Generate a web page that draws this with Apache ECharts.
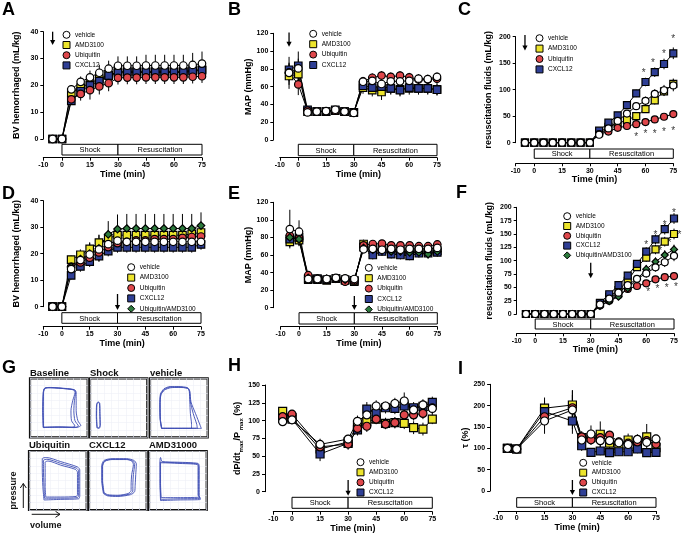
<!DOCTYPE html>
<html><head><meta charset="utf-8">
<script src="https://cdn.jsdelivr.net/npm/echarts@6/dist/echarts.min.js"></script>
<style>html,body{margin:0;padding:0;background:#fff}#c{width:685px;height:534px}</style>
</head><body><div id="c"></div>
<script>
// ---------- shared ----------
const T1 = [-5,0,5,10,15,20,25,30,35,40,45,50,55,60,65,70,75];
const T2 = [-5,0,15,30,35,40,45,50,55,60,65,70,75];
const X_TICKS = [-10,0,15,30,45,60,75];
const PHASE_START = [0,30];
const PHASE_END = [30,75];
const PHASE_LABEL = ['Shock','Resuscitation'];

// ---------- A ----------
const A_vehicle     = [0,0,18.5,21.3,23.0,24.7,26.2,27.3,27.3,27.3,27.4,27.4,27.4,27.4,27.4,27.6,28.1];
const A_vehicle_err = [0,0,1.5,2.0,2.5,3.0,3.0,3.5,3.5,3.5,4.0,4.0,4.0,4.0,4.0,4.5,4.5];
const A_amd         = [0,0,17.3,19.2,20.8,22.5,23.8,25.0,25.2,25.2,25.2,25.2,25.2,25.2,25.2,25.6,25.9];
const A_amd_err     = [0,0,1.0,1.5,2.0,2.0,2.5,3.0,3.0,3.0,3.0,3.0,3.0,3.0,3.0,3.0,3.0];
const A_ubi         = [0,0,14.8,16.8,18.2,19.6,20.8,22.8,22.9,22.9,23.0,23.0,23.0,23.0,23.0,23.2,23.4];
const A_ubi_err     = [0,0,2.0,2.5,3.5,3.0,3.0,2.5,2.5,2.5,2.5,2.5,2.5,2.5,2.5,2.5,2.5];
const A_cxcl        = [0,0,14.2,17.8,20.0,21.6,23.6,24.6,24.8,24.8,24.8,24.8,24.8,24.8,24.8,25.3,25.6];
const A_cxcl_err    = [0,0,1.5,2.0,2.0,2.0,2.0,3.0,3.0,3.0,3.0,3.0,3.0,3.0,3.0,3.0,3.0];
const A_arrow = [-5,40,35];

// ---------- B ----------
const B_vehicle     = [75.5,80.5,31,32,32.5,34,32,30.5,65.5,66.5,63,66,66,66.5,69,68.5,71];
const B_vehicle_err = [18,19,3,3,3,3,3,3,5,5,5,5,5,5,5,5,5];
const B_amd         = [72,74,32,32,32,33,32,31,59,56,54,58,57,58,58,58,57];
const B_amd_err     = [10,10,3,3,3,3,3,3,7,7,9,7,7,7,7,7,7];
const B_ubi         = [76,62.5,33,32,32,33,32,31,66,70,72.5,71,72.5,70.5,68,68,69];
const B_ubi_err     = [10,12,3,3,3,3,3,3,5,5,5,5,5,5,5,5,5];
const B_cxcl        = [79,83.5,34,32,32,34,32,31,61,59,60,58,56,59,58,58,56.5];
const B_cxcl_err    = [8,8,3,3,3,3,3,3,5,6,6,6,7,6,6,6,6];
const B_arrow = [-5,121,105];

// ---------- C ----------
const C_vehicle     = [0,0,0,0,0,0,0,0,15,27,41,55,69,79,92,99,108];
const C_vehicle_err = [0,0,0,0,0,0,0,0,3,4,5,6,7,8,9,10,11];
const C_amd         = [0,0,0,0,0,0,0,0,19,30,36,43,50,63.5,80,97,111];
const C_amd_err     = [0,0,0,0,0,0,0,0,3,4,5,5,6,7,8,9,10];
const C_ubi         = [0,0,0,0,0,0,0,0,16,21,28,31.5,35,39,44,49,54];
const C_ubi_err     = [0,0,0,0,0,0,0,0,3,3,4,4,5,5,6,6,6];
const C_cxcl        = [0,0,0,0,0,0,0,0,22.6,37.7,51.6,71,93,114.5,133,148.5,168.7];
const C_cxcl_err    = [0,0,0,0,0,0,0,0,3,4,5,6,7,8,9,10,11];
const C_arrow = [-5,203,174];
const C_star_x = [59,64,70,75,55,60,65,70,75];
const C_star_y = [135,154,170,199,14,19,20.6,24,25];

// ---------- D ----------
const D_vehicle     = [0,0,14.2,17.6,19.7,21.6,23.6,24.9,24.5,24.5,24.5,24.5,24.5,24.5,24.5,24.5,24.5];
const D_vehicle_err = [0,0,1.5,2,2,2,2,2.5,2.5,2.5,2.5,2.5,2.5,2.5,2.5,2.5,2.5];
const D_amd         = [0,0,17.8,19.6,21.8,24.2,25.8,27,27,27,27,27,27,27,27,27.5,28];
const D_amd_err     = [0,0,1.5,2,2.5,3,3,3,3,3,3,3,3,3,3,3,3];
const D_ubi         = [0,0,15,16.7,18.5,20.5,22.5,24,24.5,25,25,25.5,25.5,25.5,26,26.3,26.5];
const D_ubi_err     = [0,0,1.5,2,2,2,2,2.5,2.5,2.5,2.5,2.5,2.5,2.5,2.5,2.5,2.5];
const D_cxcl        = [0,0,11.8,15.2,17,19.1,21,22.4,22.4,22.4,22.4,22.4,22.4,22.4,22.4,22.4,23.5];
const D_cxcl_err    = [0,0,1.5,2,2,2,2,2,2,2,2,2,2,2,2,2,2];
const D_ua          = [0,0,15,18,20,22,27.3,29.3,29.5,29.5,29.5,29.5,29.5,29.5,29.5,29.5,30.6];
const D_ua_err      = [0,0,2,3,4,5,5,5.5,5.5,5.5,5.5,5.5,5.5,5.5,5.5,5.5,5];
const D_arrow = [30,4.8,-1.2];

// ---------- E ----------
const E_vehicle     = [89.5,86.5,32.7,32.7,32.7,34,33.4,32.7,66.5,67,66,67,66,67,67,67,68];
const E_vehicle_err = [22,13,3,3,3,3,3,3,4,4,4,4,4,4,4,4,4];
const E_amd         = [75,77,32,32,31,33,31,29.6,72.5,66,67,66,65,64,65,64,65];
const E_amd_err     = [6,6,3,3,3,3,3,3,5,5,5,5,5,5,5,5,5];
const E_ubi         = [82,79,37,33,32,33,29.6,31,71,72.5,73,71,71,71,70,70,72];
const E_ubi_err     = [8,8,3,3,3,3,3,3,4,4,4,4,4,4,4,4,4];
const E_cxcl        = [78,80,33,33,32,33,32,31,69,60,64,61,60,59,62,62,63];
const E_cxcl_err    = [8,8,3,3,3,3,3,3,5,5,5,5,5,5,5,5,5];
const E_ua          = [80,78,34,33,33,33,32,32,68,66,65,64,64,63,63,61,64];
const E_ua_err      = [8,8,3,3,3,3,3,3,5,5,5,5,5,5,5,5,5];
const E_arrow = [30,13.3,-2.6];

// ---------- F ----------
const F_vehicle     = [0,0,0,0,0,0,0,0,18,29,40,54,66,76,87.5,97,109];
const F_vehicle_err = [0,0,0,0,0,0,0,0,3,4,5,6,7,8,8,9,10];
const F_amd         = [0,0,0,0,0,0,0,0,20,32,45,62,88,105.6,121,135.6,150];
const F_amd_err     = [0,0,0,0,0,0,0,0,3,4,5,6,7,8,9,9,10];
const F_ubi         = [0,0,0,0,0,0,0,0,16,25,35,47,52.5,57.5,65,69,71];
const F_ubi_err     = [0,0,0,0,0,0,0,0,3,3,4,4,5,5,5,5,5];
const F_cxcl        = [0,0,0,0,0,0,0,0,21,37,54,72,94,117,140,159,179];
const F_cxcl_err    = [0,0,0,0,0,0,0,0,3,4,5,6,7,8,9,10,10];
const F_ua          = [0,0,0,0,0,0,0,0,15,24,32.5,48,65,84,98,110.6,121];
const F_ua_err      = [0,0,0,0,0,0,0,0,3,4,5,6,7,8,8,9,9];
const F_arrow = [30,96,67];
const F_star_x = [60,65,70,75,67.5,72.5,78,61,66,71,76];
const F_star_y = [132,151,170,192,121,136,151,45,50,52.5,54];

// ---------- H ----------
const H_vehicle     = [98.5,101,66.5,74,99,108,120.5,120.5,124,127.5,115,122,117];
const H_vehicle_err = [5,6,8,6,8,10,8,6,8,12,8,8,8];
const H_amd         = [113,104,60,70,94,98.5,102,96,97,96,90,88,102];
const H_amd_err     = [6,6,8,7,8,8,7,8,8,8,9,9,7];
const H_ubi         = [105.5,109,63,67,89,92,102,95,97,108,108,110,118];
const H_ubi_err     = [6,6,8,8,8,8,7,7,7,7,8,8,8];
const H_cxcl        = [103,102,53,68,87,116,110,118,117,120.5,118,120,125.6];
const H_cxcl_err    = [6,6,10,7,8,10,8,8,8,8,8,8,8];
const H_arrow = [30,16.4,-5.6];

// ---------- I ----------
const I_vehicle     = [100,98.4,164,190,119.5,133.6,118,118,113,109,121,114,122];
const I_vehicle_err = [4,4,30,45,15,20,15,12,12,10,12,10,10];
const I_amd         = [100,98.4,194,201.5,125,125,133,112,105.5,119.5,112,127,101.6];
const I_amd_err     = [4,4,25,35,15,15,30,15,12,15,12,30,10];
const I_ubi         = [100,98.4,174,195,127,120,125,131,115,112,115,118,110];
const I_ubi_err     = [4,4,20,30,12,12,12,10,10,10,10,10,10];
const I_cxcl        = [100,98.4,186,164,106,90.6,93.7,90,92,92,98.4,90,90.6];
const I_cxcl_err    = [4,4,25,30,12,10,10,10,10,10,10,10,10];
const I_arrow = [30,25.8,-9.4];

// ---------- G (pressure-volume loops, box units 0-10) ----------
const PV_baseline = [
  [[2.3,1.7],[2.2,4.5],[2.3,7.5],[2.5,8.3],[3.5,8.4],[6.5,8.2],[7.6,8.0],[7.8,7.6],[7.4,6.2],[7.1,4.5],[7.2,2.8],[7.8,1.9],[7.3,1.7],[5,1.75],[2.3,1.7]],
  [[2.3,1.65],[2.25,4.5],[2.3,7.6],[2.6,8.35],[3.5,8.45],[6.5,8.25],[7.7,8.05],[7.9,7.6],[7.7,6.2],[7.6,4.5],[7.8,2.8],[8.4,1.9],[7.8,1.65],[5,1.7],[2.3,1.65]],
  [[2.35,1.7],[2.3,4.5],[2.35,7.6],[2.6,8.3],[3.5,8.4],[6.5,8.2],[7.8,8.0],[8.0,7.6],[8.0,6.2],[8.0,4.5],[8.3,2.8],[8.8,2.0],[8.2,1.7],[5,1.75],[2.35,1.7]]
];
const PV_shock = [
  [[1.2,1.6],[1.1,3.5],[1.15,5.6],[1.4,6.0],[1.7,5.8],[1.75,4],[1.8,2.0],[1.6,1.5],[1.2,1.6]],
  [[1.25,1.7],[1.15,3.5],[1.2,5.5],[1.45,5.9],[1.65,5.7],[1.7,4],[1.75,2.1],[1.55,1.6],[1.25,1.7]]
];
const PV_vehicle = [
  [[2.0,1.5],[1.75,3],[1.7,5.5],[1.8,7.3],[2.4,8.2],[3.5,8.6],[5,8.6],[6.5,8.4],[6.8,7.8],[6.9,6.0],[7.0,4.0],[7.2,2.2],[7.2,1.5],[4.5,1.5],[2.0,1.5]],
  [[2.0,1.55],[1.8,3],[1.75,5.5],[1.85,7.2],[2.5,8.1],[3.5,8.5],[5,8.5],[6.5,8.3],[6.85,7.8],[7.0,6.0],[7.5,4.0],[8.1,2.2],[8.2,1.55],[4.5,1.55],[2.0,1.55]],
  [[2.05,1.5],[1.8,3],[1.75,5.5],[1.9,7.2],[2.5,8.0],[3.6,8.4],[5,8.45],[6.6,8.3],[6.9,7.8],[7.1,6.0],[7.9,4.0],[8.7,2.0],[8.9,1.5],[4.5,1.5],[2.05,1.5]]
];
const PV_ubiquitin = [
  [[2.6,1.7],[2.4,4],[2.3,7],[2.3,8.7],[3,8.9],[5.5,8.2],[8.4,7.3],[8.8,6.8],[8.8,4.5],[8.8,2.4],[8.6,1.9],[5.5,1.8],[2.6,1.7]],
  [[2.7,2.0],[2.6,4],[2.5,7],[2.5,8.4],[3.1,8.6],[5.5,7.9],[8.2,7.1],[8.6,6.6],[8.6,4.5],[8.6,2.5],[8.4,2.1],[5.5,2.0],[2.7,2.0]],
  [[2.9,2.2],[2.8,4],[2.8,7],[2.8,8.1],[3.3,8.3],[5.5,7.6],[8.0,6.9],[8.4,6.4],[8.4,4.5],[8.4,2.6],[8.2,2.3],[5.5,2.2],[2.9,2.2]]
];
const PV_cxcl12 = [
  [[2.5,2.8],[2.2,5],[2.2,7.5],[2.6,8.4],[4,8.7],[6.5,8.7],[7.8,8.4],[8.2,7.8],[8.1,6],[8.0,4.2],[7.9,3.1],[7.2,2.6],[5,2.3],[3.2,2.4],[2.5,2.8]],
  [[2.55,2.9],[2.3,5],[2.3,7.4],[2.7,8.3],[4,8.6],[6.5,8.6],[7.6,8.3],[7.9,7.7],[7.7,6],[7.6,4.2],[7.6,3.2],[7.0,2.7],[5,2.4],[3.2,2.5],[2.55,2.9]],
  [[2.6,3.0],[2.35,5],[2.35,7.4],[2.75,8.25],[4,8.55],[6.5,8.55],[7.4,8.3],[7.7,7.7],[7.4,6],[7.3,4.2],[7.3,3.3],[6.8,2.8],[5,2.5],[3.2,2.6],[2.6,3.0]]
];
const PV_amd = [
  [[2.0,1.6],[1.9,4.5],[1.9,8.3],[2.0,8.9],[2.3,8.2],[5,8.1],[8.5,7.9],[8.7,7.4],[8.7,4.5],[8.7,2.5],[8.9,1.8],[5,1.7],[2.0,1.6]],
  [[2.1,2.1],[2.0,4.5],[2.0,8.0],[2.3,8.0],[5,7.9],[8.4,7.7],[8.5,7.2],[8.5,4.5],[8.5,2.5],[8.8,2.2],[5,2.1],[2.1,2.1]],
  [[2.05,1.8],[1.95,4.5],[1.95,8.1],[2.3,8.1],[5,8.0],[8.45,7.8],[8.6,7.3],[8.6,4.5],[8.6,2.4],[8.9,2.0],[5,1.9],[2.05,1.8]]
];
const PV_TITLES = ['Baseline','Shock','vehicle','Ubiquitin','CXCL12','AMD31000'];

// ---------- build ----------
const FONT = "'Liberation Sans', Arial, Helvetica, sans-serif";
const STY = {
  'vehicle':{symbol:'circle', color:'#ffffff'},
  'AMD3100':{symbol:'rect', color:'#ece42c'},
  'Ubiquitin':{symbol:'circle', color:'#df474b'},
  'CXCL12':{symbol:'rect', color:'#2f3f95'},
  'Ubiquitin/AMD3100':{symbol:'diamond', color:'#2c7a3c'}
};
const DRAW_ORDER = ['AMD3100','CXCL12','Ubiquitin','Ubiquitin/AMD3100','vehicle'];
const LEG_ORDER = ['vehicle','AMD3100','Ubiquitin','CXCL12','Ubiquitin/AMD3100'];

const option = {animation:false, textStyle:{fontFamily:FONT}, title:[], grid:[], xAxis:[], yAxis:[], legend:[], series:[], graphic:[]};

const panels = [
 {id:'A', t:T1, s:{'vehicle':[A_vehicle,A_vehicle_err],'AMD3100':[A_amd,A_amd_err],'Ubiquitin':[A_ubi,A_ubi_err],'CXCL12':[A_cxcl,A_cxcl_err]},
  grid:[43.3,31.7,158.7,107.3], yMax:40, yInt:10, yOff:0, xOff:18.7, xGap:11.5, box:[5.3,10.7],
  yName:'BV hemorrhaged (mL/kg)', yGap:22, leg:[62.5,30.8,2.2], size:7.5, arrow:A_arrow, letter:[2,1]},
 {id:'B', t:T1, s:{'vehicle':[B_vehicle,B_vehicle_err],'AMD3100':[B_amd,B_amd_err],'Ubiquitin':[B_ubi,B_ubi_err],'CXCL12':[B_cxcl,B_cxcl_err]},
  grid:[279.8,33.3,157.2,106.7], yMax:120, yInt:20, yOff:6.5, xOff:17.7, xGap:11.5, box:[4.3,11.4],
  yName:'MAP (mmHg)', yGap:20, leg:[309.2,29.8,2.4], size:7.5, arrow:B_arrow, letter:[228,1]},
 {id:'C', t:T1, s:{'vehicle':[C_vehicle,C_vehicle_err],'AMD3100':[C_amd,C_amd_err],'Ubiquitin':[C_ubi,C_ubi_err],'CXCL12':[C_cxcl,C_cxcl_err]},
  grid:[515.7,36.7,157.6,106], yMax:200, yInt:50, yOff:0, xOff:20.6, xGap:11, box:[6.3,9.3],
  yName:'resuscitation fluids (mL/kg)', yGap:23, leg:[535.5,34.2,2.4], size:7, arrow:C_arrow, stars:[C_star_x,C_star_y], letter:[458,1]},
 {id:'D', t:T1, s:{'vehicle':[D_vehicle,D_vehicle_err],'AMD3100':[D_amd,D_amd_err],'Ubiquitin':[D_ubi,D_ubi_err],'CXCL12':[D_cxcl,D_cxcl_err],'Ubiquitin/AMD3100':[D_ua,D_ua_err]},
  grid:[43.3,200.7,157.7,106], yMax:40, yInt:10, yOff:0, xOff:20, xGap:11, box:[6,10.6],
  yName:'BV hemorrhaged (mL/kg)', yGap:22, leg:[127.2,263.2,2.4], size:7.5, arrow:D_arrow, letter:[2,185]},
 {id:'E', t:T1, s:{'vehicle':[E_vehicle,E_vehicle_err],'AMD3100':[E_amd,E_amd_err],'Ubiquitin':[E_ubi,E_ubi_err],'CXCL12':[E_cxcl,E_cxcl_err],'Ubiquitin/AMD3100':[E_ua,E_ua_err]},
  grid:[280.6,202.3,156.7,105.4], yMax:120, yInt:20, yOff:7.3, xOff:19, xGap:11, box:[5,11.3],
  yName:'MAP (mmHg)', yGap:20, leg:[364.8,263.8,2.4], size:7.5, arrow:E_arrow, letter:[228,185]},
 {id:'F', t:T1, s:{'vehicle':[F_vehicle,F_vehicle_err],'AMD3100':[F_amd,F_amd_err],'Ubiquitin':[F_ubi,F_ubi_err],'CXCL12':[F_cxcl,F_cxcl_err],'Ubiquitin/AMD3100':[F_ua,F_ua_err]},
  grid:[516.7,207.3,157.3,106.7], yMax:200, yInt:25, yOff:0, xOff:19.3, xGap:11, box:[5,10],
  yName:'resuscitation fluids (mL/kg)', yGap:23, leg:[563.2,212.2,1.8], size:7, arrow:F_arrow, stars:[F_star_x,F_star_y], letter:[456,184]},
 {id:'H', t:T2, s:{'vehicle':[H_vehicle,H_vehicle_err],'AMD3100':[H_amd,H_amd_err],'Ubiquitin':[H_ubi,H_ubi_err],'CXCL12':[H_cxcl,H_cxcl_err]},
  grid:[273.3,385,159,106.7], yMax:150, yInt:25, yOff:8.3, xOff:20, xGap:10.5, box:[5.6,11],
  yName:'{a|dP/dt}{b|max}{a|/P}{b| max}{a| (%)}', yGap:11, leg:[356.5,458.2,2.1], size:8, arrow:H_arrow, letter:[228,357]},
 {id:'I', t:T2, s:{'vehicle':[I_vehicle,I_vehicle_err],'AMD3100':[I_amd,I_amd_err],'Ubiquitin':[I_ubi,I_ubi_err],'CXCL12':[I_cxcl,I_cxcl_err]},
  grid:[498.1,384.3,157.9,106.7], yMax:250, yInt:50, yOff:8, xOff:20, xGap:10.5, box:[6.7,9.6],
  yName:'τ (%)', yGap:18, leg:[579.2,458.8,1.9], size:8, arrow:I_arrow, letter:[458,360]}
];

function addPanel(p){
  const gi = option.grid.length;
  option.grid.push({left:p.grid[0], top:p.grid[1], width:p.grid[2], height:p.grid[3], outerBoundsMode:'none', containLabel:false});
  option.xAxis.push({gridIndex:gi, type:'value', min:-10, max:75, offset:p.xOff, position:'bottom',
    axisLine:{show:true, onZero:false, lineStyle:{color:'#000', width:1}},
    axisTick:{show:true, length:3, customValues:X_TICKS, lineStyle:{color:'#000', width:1}},
    axisLabel:{show:true, customValues:X_TICKS, fontSize:7, fontWeight:'bold', color:'#000', margin:4, fontFamily:FONT},
    splitLine:{show:false},
    name:'Time (min)', nameLocation:'middle', nameGap:p.xGap,
    nameTextStyle:{fontSize:9, fontWeight:'bold', color:'#000', fontFamily:FONT}});
  option.yAxis.push({gridIndex:gi, type:'value', min:0, max:p.yMax, interval:p.yInt, offset:p.yOff, position:'left',
    axisLine:{show:true, onZero:false, lineStyle:{color:'#000', width:1}},
    axisTick:{show:true, length:3, lineStyle:{color:'#000', width:1}},
    axisLabel:{show:true, fontSize:7, fontWeight:'bold', color:'#000', margin:5, fontFamily:FONT},
    splitLine:{show:false},
    name:p.yName, nameLocation:'middle', nameGap:p.yGap, nameRotate:90,
    nameTextStyle:{fontSize:9, fontWeight:'bold', color:'#000', fontFamily:FONT,
      rich:{a:{fontSize:9, fontWeight:'bold', fontFamily:FONT, lineHeight:14, color:'#000'},
            b:{fontSize:6, fontWeight:'bold', fontFamily:FONT, lineHeight:14, verticalAlign:'bottom', color:'#000'}}}});

  const names = DRAW_ORDER.filter(n => p.s[n]);
  names.forEach((n, k) => {
    const y = p.s[n][0], e = p.s[n][1];
    const pts = p.t.map((x, i) => [x, y[i]]);
    option.series.push({type:'line', xAxisIndex:gi, yAxisIndex:gi, data:pts, showSymbol:false, symbol:'none', silent:true, clip:false, z:1,
      lineStyle:{color:'#000', width:1}});
    option.series.push({type:'custom', xAxisIndex:gi, yAxisIndex:gi, silent:true, clip:false, z:2,
      data:p.t.map((x, i) => [x, y[i], e[i]]), encode:{x:0, y:1},
      renderItem:(params, api) => {
        const x = api.value(0), v = api.value(1), er = api.value(2);
        if (!er) return null;
        const a = api.coord([x, v - er]), b = api.coord([x, v + er]);
        return {type:'line', shape:{x1:a[0], y1:a[1], x2:b[0], y2:b[1]}, style:{stroke:'#000', lineWidth:1}};
      }});
    option.series.push({type:'scatter', name:n, xAxisIndex:gi, yAxisIndex:gi, data:pts, clip:false, silent:true, z:3 + k,
      symbol:STY[n].symbol, symbolSize:p.size,
      itemStyle:{color:STY[n].color, borderColor:'#000', borderWidth:1.2, opacity:1}});
  });

  // Shock / Resuscitation box
  option.series.push({type:'custom', xAxisIndex:gi, yAxisIndex:gi, silent:true, clip:false, z:9,
    data:PHASE_START.map((s, i) => [s, PHASE_END[i], 0]), encode:{x:[0,1], y:2},
    renderItem:(params, api) => {
      const a = api.coord([api.value(0), 0]), b = api.coord([api.value(1), 0]);
      const top = a[1] + p.box[0];
      return {type:'group', children:[
        {type:'rect', shape:{x:a[0], y:top, width:b[0]-a[0], height:p.box[1]}, style:{fill:'#fff', stroke:'#000', lineWidth:1}},
        {type:'text', style:{text:PHASE_LABEL[params.dataIndex], x:(a[0]+b[0])/2, y:top + p.box[1]/2 + 0.5, align:'center', verticalAlign:'middle',
          fontSize:7.5, fontFamily:FONT, fill:'#000'}}
      ]};
    }});

  // arrow
  option.series.push({type:'custom', xAxisIndex:gi, yAxisIndex:gi, silent:true, clip:false, z:10,
    data:[[p.arrow[0], p.arrow[1], p.arrow[2]]], encode:{x:0, y:[1,2]},
    renderItem:(params, api) => {
      const a = api.coord([api.value(0), api.value(1)]), b = api.coord([api.value(0), api.value(2)]);
      const h = 5;
      return {type:'group', children:[
        {type:'line', shape:{x1:a[0], y1:a[1], x2:b[0], y2:b[1]-h+1}, style:{stroke:'#000', lineWidth:1.3}},
        {type:'polygon', shape:{points:[[b[0]-2.6, b[1]-h], [b[0]+2.6, b[1]-h], [b[0], b[1]]]}, style:{fill:'#000'}}
      ]};
    }});

  if (p.stars) {
    option.series.push({type:'scatter', xAxisIndex:gi, yAxisIndex:gi, silent:true, clip:false, z:11,
      data:p.stars[0].map((x, i) => [x, p.stars[1][i]]), symbol:'circle', symbolSize:0.1,
      itemStyle:{color:'rgba(0,0,0,0)'},
      label:{show:true, formatter:'*', position:'inside', fontSize:10, color:'#000', fontFamily:FONT, offset:[0,2]}});
  }

  const legNames = LEG_ORDER.filter(n => p.s[n]);
  option.legend.push({left:p.leg[0], top:p.leg[1], orient:'vertical', itemGap:p.leg[2], itemWidth:7, itemHeight:7, padding:0,
    selectedMode:false, textStyle:{fontSize:6.5, color:'#000', fontFamily:FONT},
    data:legNames.map(n => ({name:n, icon:STY[n].symbol, itemStyle:{color:STY[n].color, borderColor:'#000', borderWidth:1}}))});

  option.title.push({text:p.id, left:p.letter[0], top:p.letter[1], padding:0,
    textStyle:{fontSize:18, fontWeight:'bold', color:'#000', fontFamily:FONT}});
}
panels.forEach(addPanel);

// ---------- G panel ----------
const pvBoxes = [
  {loops:PV_baseline,  box:[30,378.3,57.7,59]},
  {loops:PV_shock,     box:[90,378.3,57.3,59]},
  {loops:PV_vehicle,   box:[150,378.3,57.7,59]},
  {loops:PV_ubiquitin, box:[29,451,57.7,59]},
  {loops:PV_cxcl12,    box:[89,451,57.7,59]},
  {loops:PV_amd,       box:[149,451,57.7,59]}
];
pvBoxes.forEach((b, k) => {
  const gi = option.grid.length;
  option.grid.push({left:b.box[0], top:b.box[1], width:b.box[2], height:b.box[3], outerBoundsMode:'none', containLabel:false,
    show:true, borderColor:'#111', borderWidth:2.2, backgroundColor:'#fff', z:0});
  const ax = {gridIndex:gi, type:'value', min:0, max:10, interval:1.25,
    axisLine:{show:false, onZero:false}, axisLabel:{show:false},
    axisTick:{show:true, inside:true, length:2, lineStyle:{color:'#b4b9cc', width:0.6}},
    splitLine:{show:true, lineStyle:{color:'#eef0f6', width:0.6}}};
  option.xAxis.push(Object.assign({}, ax));
  option.yAxis.push(Object.assign({}, ax));
  b.loops.forEach(loop => {
    option.series.push({type:'line', xAxisIndex:gi, yAxisIndex:gi, data:loop, showSymbol:false, symbol:'none', silent:true,
      smooth:0.25, lineStyle:{color:'#3f4fb5', width:1.0, opacity:0.9}, z:2});
  });
  option.title.push({text:PV_TITLES[k], left:b.box[0], top:(k < 3 ? 368 : 440.5), padding:0,
    textStyle:{fontSize:9.5, fontWeight:'bold', color:'#111', fontFamily:FONT}});
});
option.title.push({text:'G', left:2, top:359, padding:0, textStyle:{fontSize:18, fontWeight:'bold', color:'#000', fontFamily:FONT}});

option.graphic = [
  {type:'text', x:13.3, y:490.5, rotation:Math.PI/2, style:{text:'pressure', align:'center', verticalAlign:'middle', fontSize:9, fontWeight:'bold', fontFamily:FONT, fill:'#111'}},
  {type:'polyline', shape:{points:[[23.3,508],[23.3,483.5]]}, style:{stroke:'#111', lineWidth:1}},
  {type:'polyline', shape:{points:[[20.3,488],[23.3,483.5],[26.3,488]]}, style:{stroke:'#111', lineWidth:1, fill:null}},
  {type:'text', x:30, y:525.5, style:{text:'volume', align:'left', verticalAlign:'middle', fontSize:9, fontWeight:'bold', fontFamily:FONT, fill:'#111'}},
  {type:'polyline', shape:{points:[[31.7,514.3],[60,514.3]]}, style:{stroke:'#111', lineWidth:1}},
  {type:'polyline', shape:{points:[[55.5,511.3],[60,514.3],[55.5,517.3]]}, style:{stroke:'#111', lineWidth:1, fill:null}}
];

const chart = echarts.init(document.getElementById('c'), null, {renderer:'canvas', width:685, height:534});
chart.setOption(option);
</script>
</body></html>
